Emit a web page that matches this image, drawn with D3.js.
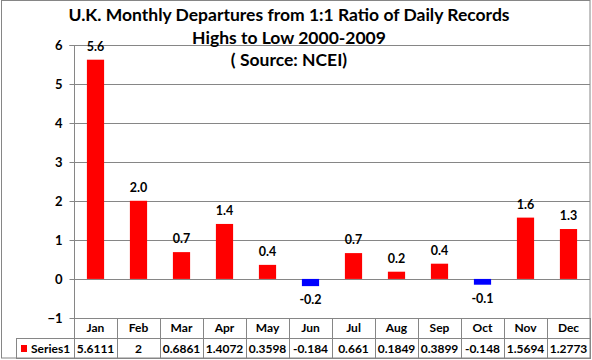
<!DOCTYPE html>
<html>
<head>
<meta charset="utf-8">
<script src="https://cdn.jsdelivr.net/npm/d3@7"></script>
<style>
  html, body { margin: 0; padding: 0; background: #fff; }
  svg { display: block; }
  text { font-family: Lato, "Open Sans", sans-serif; font-weight: bold; fill: #000; }
</style>
</head>
<body>
<svg id="chart" width="592" height="360"></svg>
<script>
const months = ["Jan","Feb","Mar","Apr","May","Jun","Jul","Aug","Sep","Oct","Nov","Dec"];
const values = [5.6111, 2, 0.6861, 1.4072, 0.3598, -0.184, 0.661, 0.1849, 0.3899, -0.148, 1.5694, 1.2773];
const seriesName = "Series1";
const yTicks = [-1, 0, 1, 2, 3, 4, 5, 6];
const titleLines = ["U.K. Monthly Departures from 1:1 Ratio of Daily Records", "Highs to Low 2000-2009", "( Source: NCEI)"];

(function () {
const svg = d3.select("#chart");
const pLeft = 74, pRight = 590, pTop = 44.5, pBottom = 318;
const tableBottom = 358, headerBottom = 338, legendLeft = 16;
const gridColor = "#868686";

// border
svg.append("rect").attr("x", 1.5).attr("y", 0.5).attr("width", 588.5).attr("height", 357.5)
  .attr("fill", "none").attr("stroke", gridColor).attr("stroke-width", 1);

const x = d3.scaleBand().domain(months).range([pLeft, pRight]).paddingInner(0.6).paddingOuter(0.3);
const xCat = d3.scaleBand().domain(months).range([pLeft, pRight]).padding(0);
const y = d3.scaleLinear().domain([-1, 6]).range([pBottom, pTop]);

// gridlines
svg.append("g").selectAll("line").data(yTicks).join("line")
  .attr("x1", pLeft).attr("x2", pRight)
  .attr("y1", d => Math.round(y(d)) + 0.5).attr("y2", d => Math.round(y(d)) + 0.5)
  .attr("stroke", gridColor).attr("stroke-width", 1);

// y axis
const yAxis = d3.axisLeft(y).tickValues(yTicks).tickSize(5).tickPadding(7).tickFormat(d3.format("d"));
const ga = svg.append("g").attr("transform", `translate(${pLeft + 0.5},0.5)`).call(yAxis);
ga.select(".domain").attr("stroke", gridColor).attr("d", `M-5,${Math.round(y(6))}H0V${Math.round(y(-1))}`);
ga.selectAll(".tick line").attr("stroke", gridColor);
ga.selectAll(".tick").attr("transform", d => `translate(0,${Math.round(y(d))})`);
ga.selectAll(".tick text").attr("font-size", 13).attr("font-family", null).attr("fill", "#000");

// bars
svg.append("g").selectAll("rect").data(values).join("rect")
  .attr("x", (d, i) => x(months[i]))
  .attr("width", x.bandwidth())
  .attr("y", d => y(Math.max(0, d)))
  .attr("height", d => Math.abs(y(d) - y(0)))
  .attr("fill", d => d < 0 ? "#0000FF" : "#FF0000");

// data labels
svg.append("g").selectAll("text").data(values).join("text")
  .attr("x", (d, i) => x(months[i]) + x.bandwidth() / 2)
  .attr("y", d => d >= 0 ? y(d) - 9 : y(d) + 18)
  .attr("text-anchor", "middle")
  .attr("font-size", 12.5)
  .attr("font-weight", 600)
  .text(d => d.toFixed(1));

// data table
const tg = svg.append("g");
tg.append("line").attr("x1", pLeft).attr("x2", pRight).attr("y1", pBottom + 0.5).attr("y2", pBottom + 0.5).attr("stroke", gridColor);
tg.append("line").attr("x1", legendLeft).attr("x2", pRight).attr("y1", headerBottom + 0.5).attr("y2", headerBottom + 0.5).attr("stroke", gridColor);
tg.append("line").attr("x1", legendLeft).attr("x2", pRight).attr("y1", tableBottom + 0.5).attr("y2", tableBottom + 0.5).attr("stroke", gridColor);
const bounds = months.map(m => xCat(m)).concat([pRight]);
tg.selectAll("line.v").data(bounds).join("line").attr("class", "v")
  .attr("x1", d => Math.round(d) + 0.5).attr("x2", d => Math.round(d) + 0.5)
  .attr("y1", pBottom).attr("y2", tableBottom + 1)
  .attr("stroke", gridColor);
tg.append("line").attr("x1", legendLeft + 0.5).attr("x2", legendLeft + 0.5)
  .attr("y1", headerBottom).attr("y2", tableBottom + 1).attr("stroke", gridColor);

tg.selectAll("text.h").data(months).join("text").attr("class", "h")
  .attr("x", d => xCat(d) + xCat.bandwidth() / 2)
  .attr("y", 332)
  .attr("text-anchor", "middle").attr("font-size", 12)
  .text(d => d);
tg.selectAll("text.v").data(values).join("text").attr("class", "v")
  .attr("x", (d, i) => xCat(months[i]) + xCat.bandwidth() / 2)
  .attr("y", 353)
  .attr("text-anchor", "middle").attr("font-size", 12)
  .text(d => String(d));
tg.append("rect").attr("x", 21).attr("y", 345).attr("width", 6).attr("height", 7).attr("fill", "#FF0000");
tg.append("text").attr("x", 31).attr("y", 353).attr("font-size", 12).text(seriesName);

// title
svg.append("g").selectAll("text").data(titleLines).join("text")
  .attr("x", 289)
  .attr("y", (d, i) => 21 + i * 22.5)
  .attr("text-anchor", "middle")
  .attr("font-size", 17.5)
  .text(d => d);
})();
</script>
</body>
</html>
